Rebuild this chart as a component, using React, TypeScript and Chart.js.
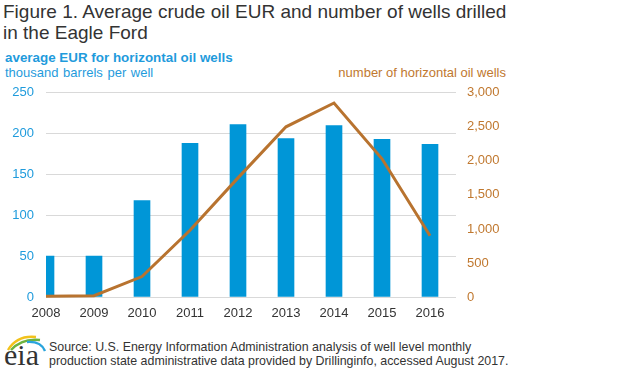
import React, { useEffect, useRef } from "react";
import { Chart, registerables } from "chart.js";

Chart.register(...registerables);

const years = [2008, 2009, 2010, 2011, 2012, 2013, 2014, 2015, 2016];
const eurValues = [50, 50, 118, 188, 211, 194, 210, 193, 187];
const wellCounts = [10, 20, 300, 980, 1750, 2500, 2850, 2030, 900];
const leftMax = 250;
const leftStep = 50;
const rightMax = 3000;
const rightStep = 500;

const FONT = "'Liberation Sans', Arial, sans-serif";
const BLUE = "#0096d7";
const BLUE_TEXT = "#1f9bdc";
const BROWN = "#b8732f";
const BROWN_TEXT = "#c0782f";

function EiaLogo() {
  return (
    <svg width="46" height="36" viewBox="0 0 46 36" style={{ position: "absolute", left: 3, top: 332 }}>
      <path d="M5 18 Q14 3 33 5" stroke="#f2c21b" strokeWidth="2.4" fill="none" />
      <path d="M8 18 Q19 6 37 8" stroke="#6cb33f" strokeWidth="2.4" fill="none" />
      <path d="M24 10 Q38 9 42 19" stroke="#2aa4dc" strokeWidth="2.4" fill="none" />
      <text x="1" y="33" fontFamily="'Liberation Serif', 'DejaVu Serif', serif" fontSize="30" fill="#333">eia</text>
    </svg>
  );
}

export default function App() {
  const canvasRef = useRef<HTMLCanvasElement | null>(null);

  useEffect(() => {
    const canvas = canvasRef.current;
    if (!canvas) return;
    const chart = new Chart(canvas, {
      type: "bar",
      data: {
        datasets: [
          {
            type: "line",
            label: "number of horizontal oil wells",
            data: years.map((y, i) => ({ x: y, y: wellCounts[i] })),
            borderColor: BROWN,
            backgroundColor: BROWN,
            borderWidth: 3,
            pointRadius: 0,
            tension: 0,
            yAxisID: "y1",
            xAxisID: "x",
            order: 0,
            clip: false,
          },
          {
            type: "bar",
            label: "average EUR for horizontal oil wells",
            data: years.map((y, i) => ({ x: y, y: eurValues[i] })),
            backgroundColor: BLUE,
            barThickness: 16,
            yAxisID: "y",
            xAxisID: "x",
            order: 1,
          },
        ],
      },
      options: {
        responsive: false,
        animation: false,
        layout: { padding: { top: 5, left: 0, right: 0, bottom: 0 } },
        plugins: { legend: { display: false }, tooltip: { enabled: false } },
        scales: {
          x: {
            type: "linear",
            position: "bottom",
            min: years[0],
            max: years[0] + 410 / 48,
            offset: false,
            grid: { display: false, offset: false, drawTicks: false },
            border: { display: false },
            afterBuildTicks: (scale: any) => {
              scale.ticks = years.map((y) => ({ value: y }));
            },
            ticks: {
              color: "#333",
              font: { family: FONT, size: 13 },
              padding: 9,
              maxRotation: 0,
              autoSkip: false,
              callback: (v: any) => String(v),
            },
            afterFit: (scale: any) => {
              scale.height = 33;
            },
          },
          y: {
            position: "left",
            min: 0,
            max: leftMax,
            grid: { color: "#d9d9d9", lineWidth: 1, drawTicks: false },
            border: { display: false },
            ticks: {
              stepSize: leftStep,
              color: BLUE_TEXT,
              padding: 12,
              font: { family: FONT, size: 13 },
            },
            afterFit: (scale: any) => {
              scale.width = 46;
            },
          },
          y1: {
            position: "right",
            min: 0,
            max: rightMax,
            grid: { display: false, drawTicks: false },
            border: { display: false },
            ticks: {
              stepSize: rightStep,
              color: BROWN_TEXT,
              padding: 11,
              font: { family: FONT, size: 13 },
              callback: (v: any) => Number(v).toLocaleString("en-US"),
            },
            afterFit: (scale: any) => {
              scale.width = 165;
            },
          },
        },
      },
    });
    return () => chart.destroy();
  }, []);

  return (
    <div style={{ position: "absolute", left: 0, top: 0, width: 621, height: 375, background: "#fff", fontFamily: FONT, overflow: "hidden" }}>
      <div style={{ position: "absolute", left: 3, top: 1, fontSize: 19, lineHeight: "21px", color: "#333", whiteSpace: "nowrap" }}>
        Figure 1. Average crude oil EUR and number of wells drilled
        <br />
        in the Eagle Ford
      </div>
      <div style={{ position: "absolute", left: 5, top: 50, fontSize: 13.4, fontWeight: "bold", color: BLUE_TEXT, whiteSpace: "nowrap" }}>
        average EUR for horizontal oil wells
      </div>
      <div style={{ position: "absolute", left: 5, top: 65, fontSize: 13, color: BLUE_TEXT, whiteSpace: "nowrap", wordSpacing: 1 }}>
        thousand barrels per well
      </div>
      <div style={{ position: "absolute", right: 115, top: 65, fontSize: 13, color: BROWN_TEXT, whiteSpace: "nowrap" }}>
        number of horizontal oil wells
      </div>
      <canvas ref={canvasRef} width={621} height={257} style={{ position: "absolute", left: 0, top: 73 }} />
      <EiaLogo />
      <div style={{ position: "absolute", left: 49, top: 340, fontSize: 12.4, lineHeight: "14px", color: "#333", whiteSpace: "nowrap" }}>
        Source: U.S. Energy Information Administration analysis of well level monthly
        <br />
        production state administrative data provided by Drillinginfo, accessed August 2017.
      </div>
    </div>
  );
}
